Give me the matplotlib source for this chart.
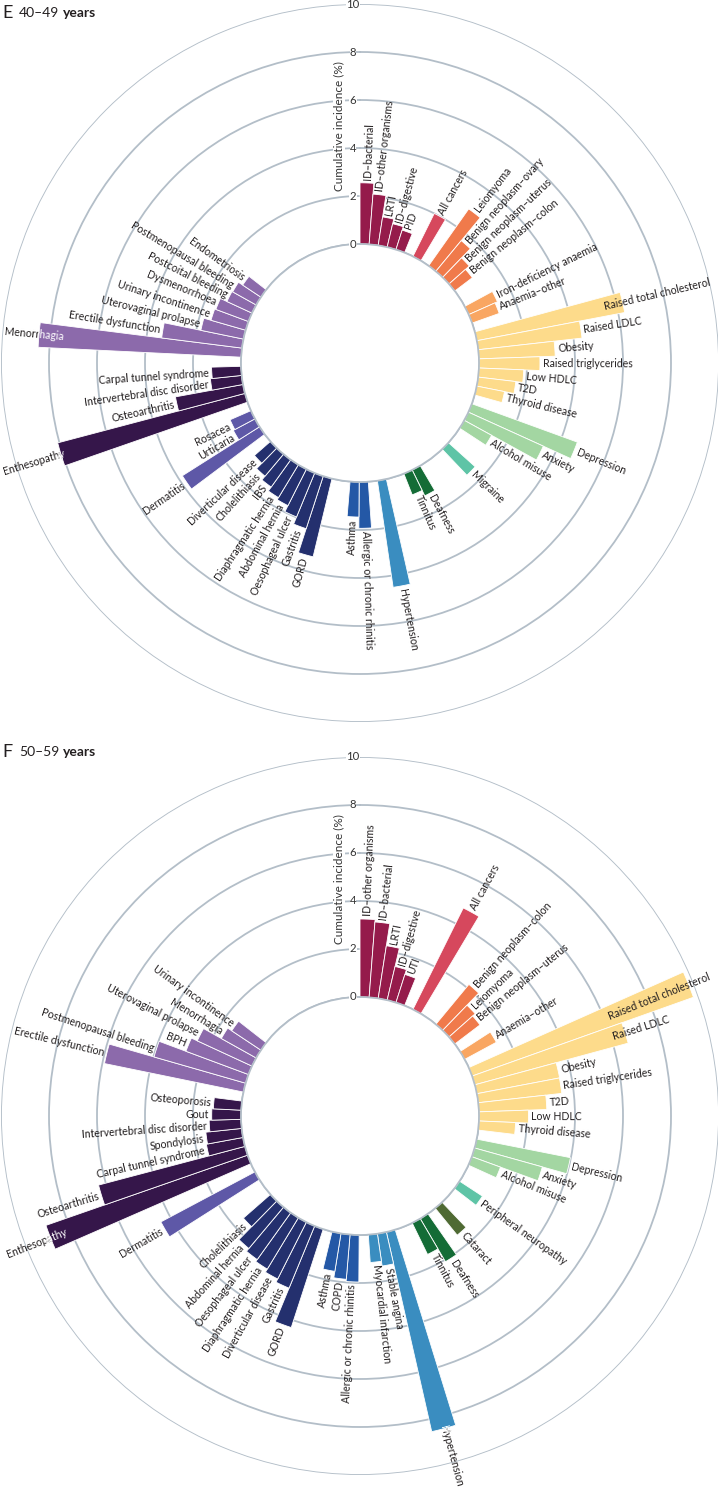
import matplotlib
matplotlib.use('Agg')
import matplotlib.pyplot as plt
import numpy as np
from matplotlib import font_manager

# ---- data: panel E, 40-49 years ----
e_labels = ['ID–bacterial', 'ID–other organisms', 'LRTI', 'ID–digestive', 'PID',
            'All cancers',
            'Leiomyoma', 'Benign neoplasm–ovary', 'Benign neoplasm–uterus', 'Benign neoplasm–colon',
            'Iron-deficiency anaemia', 'Anaemia–other',
            'Raised total cholesterol', 'Raised LDLC', 'Obesity', 'Raised triglycerides',
            'Low HDLC', 'T2D', 'Thyroid disease',
            'Depression', 'Anxiety', 'Alcohol misuse',
            'Migraine',
            'Deafness', 'Tinnitus',
            'Hypertension',
            'Allergic or chronic rhinitis', 'Asthma',
            'GORD', 'Gastritis', 'Oesophageal ulcer', 'Abdominal hernia', 'Diaphragmatic hernia',
            'IBS', 'Cholelithiasis', 'Diverticular disease',
            'Dermatitis', 'Urticaria', 'Rosacea',
            'Enthesopathy', 'Osteoarthritis', 'Intervertebral disc disorder', 'Carpal tunnel syndrome',
            'Menorrhagia', 'Erectile dysfunction', 'Uterovaginal prolapse', 'Urinary incontinence',
            'Dysmenorrhoea', 'Postcoital bleeding', 'Postmenopausal bleeding', 'Endometriosis']
e_values = [2.55, 2.1, 1.2, 1.0, 0.85,
            2.0,
            2.9, 1.66, 1.13, 0.92,
            1.31, 1.2,
            6.27, 4.35, 3.18, 2.54, 1.87, 1.58, 1.18,
            4.68, 3.43, 1.3,
            1.5,
            1.2, 0.95,
            4.49,
            1.93, 1.46,
            3.35, 2.3, 1.98, 1.7, 1.6, 1.4, 1.2, 0.89,
            3.81, 1.02, 0.95,
            8.07, 2.86, 1.31, 1.23,
            8.47, 3.37, 1.81, 1.5, 1.45, 1.15, 1.12, 0.91]
e_groups = ['inf', 'can', 'ben', 'ana', 'met', 'men', 'neu', 'ear', 'cv', 'resp', 'gi', 'skin', 'msk', 'gu']
e_sizes = [5, 1, 4, 2, 7, 3, 1, 2, 1, 2, 8, 3, 4, 8]
e_gaps = [1, 1, 2, 1, 1, 2, 3, 2, 1, 2, 1, 1, 1]

# ---- data: panel F, 50-59 years ----
f_labels = ['ID–other organisms', 'ID–bacterial', 'LRTI', 'ID–digestive', 'UTI',
            'All cancers',
            'Benign neoplasm–colon', 'Leiomyoma', 'Benign neoplasm–uterus',
            'Anaemia–other',
            'Raised total cholesterol', 'Raised LDLC', 'Obesity', 'Raised triglycerides',
            'T2D', 'Low HDLC', 'Thyroid disease',
            'Depression', 'Anxiety', 'Alcohol misuse',
            'Peripheral neuropathy',
            'Cataract',
            'Deafness', 'Tinnitus',
            'Hypertension', 'Stable angina', 'Myocardial infarction',
            'Allergic or chronic rhinitis', 'COPD', 'Asthma',
            'GORD', 'Gastritis', 'Diverticular disease', 'Diaphragmatic hernia',
            'Oesophageal ulcer', 'Abdominal hernia', 'Cholelithiasis',
            'Dermatitis',
            'Enthesopathy', 'Osteoarthritis', 'Carpal tunnel syndrome', 'Spondylosis',
            'Intervertebral disc disorder', 'Gout', 'Osteoporosis',
            'Erectile dysfunction', 'Postmenopausal bleeding', 'BPH', 'Uterovaginal prolapse',
            'Menorrhagia', 'Urinary incontinence']
f_values = [3.25, 3.15, 2.22, 1.44, 1.23,
            4.72,
            2.16, 1.46, 1.32,
            1.5,
            9.79, 6.62, 3.51, 3.5, 2.83, 2.06, 1.53,
            3.98, 2.93, 1.27,
            1.14,
            1.45,
            2.08, 1.46,
            8.53, 1.36, 1.16,
            1.96, 1.87, 1.6,
            4.31, 2.8, 2.65, 2.5, 2.4, 2.25, 1.5,
            4.44,
            8.9, 6.31, 1.55, 1.5, 1.33, 1.22, 1.16,
            5.91, 3.97, 2.78, 2.51, 1.66, 1.46]
f_groups = ['inf', 'can', 'ben', 'ana', 'met', 'men', 'neu', 'eye', 'ear', 'cv', 'resp', 'gi', 'skin', 'msk', 'gu']
f_sizes = [5, 1, 3, 1, 7, 3, 1, 1, 2, 3, 3, 7, 1, 7, 6]
f_gaps = [1, 2, 1, 1, 1, 2, 2, 1, 2, 1, 1, 2, 1, 1]

group_colours = {'inf': '#951b4b', 'can': '#d6485d', 'ben': '#f07a4b', 'ana': '#f9a662',
                 'met': '#fddb8b', 'men': '#a3d6a2', 'neu': '#5ec4a6', 'eye': '#4f6a33',
                 'ear': '#146c36', 'cv': '#3a8dc0', 'resp': '#2458a6', 'gi': '#24306e',
                 'skin': '#5e58a7', 'msk': '#35164a', 'gu': '#8c6aab'}

# labels moved by hand in the original (radius where the label is anchored)
e_moved = {'Raised total cholesterol': 5.5, 'Menorrhagia': 7.45, 'Enthesopathy': 7.9}
f_moved = {'Raised total cholesterol': 6.2, 'Raised LDLC': 6.1, 'Enthesopathy': 8.2,
           'Hypertension': 8.4}
white_over_bar = ['Menorrhagia', 'Enthesopathy', 'Hypertension']

names = {f.name for f in font_manager.fontManager.ttflist}
if 'Liberation Sans Narrow' in names:
    plt.rcParams['font.family'] = ['Liberation Sans Narrow', 'DejaVu Sans']
    fs = 8.6
else:
    plt.rcParams['font.family'] = ['Lato', 'DejaVu Sans']
    fs = 7.6

SLOT = np.radians(4.4)
INNER = 119 / 24  # hole in the middle, in % units
ring_col = '#b3bec8'
txt_col = '#231f20'


def draw_panel(ax, labels, values, groups, sizes, gaps, moved):
    slots = []
    s = 0
    cols = []
    for i, n in enumerate(sizes):
        if i > 0:
            s += gaps[i - 1]
        for k in range(n):
            slots.append(s)
            cols.append(group_colours[groups[i]])
            s += 1
    theta = (np.array(slots) + 0.5) * SLOT

    ax.set_theta_zero_location('N')
    ax.set_theta_direction(-1)
    ax.set_ylim(0, 10)
    ax.set_rorigin(-INNER)
    ax.set_facecolor('none')
    ax.set_xticks([])
    ax.set_yticks([0, 2, 4, 6, 8, 10])
    ax.set_yticklabels([])
    ax.tick_params(length=0)
    ax.set_axisbelow(True)
    ax.yaxis.grid(True, color=ring_col, lw=1.3)
    for sp in ax.spines.values():
        sp.set_visible(False)
    # the inner spine is switched back on when drawing, so give it the ring style
    ax.spines['inner'].set_color(ring_col)
    ax.spines['inner'].set_linewidth(1.3)

    bars = ax.bar(theta, values, width=SLOT, bottom=0, color=cols,
                  edgecolor='white', linewidth=0.6, zorder=2)

    for t, v, lab, b in zip(theta, values, labels, bars):
        deg = np.degrees(t)
        if deg < 180:
            rot, ha = 90 - deg, 'left'
        else:
            rot, ha = 270 - deg, 'right'
        r = moved.get(lab, v + 0.12)
        if lab in white_over_bar and lab in moved:
            ax.text(t, r, lab, rotation=rot, rotation_mode='anchor', ha=ha, va='center',
                    fontsize=fs, color=txt_col, zorder=1)
            w = ax.text(t, r, lab, rotation=rot, rotation_mode='anchor', ha=ha, va='center',
                        fontsize=fs, color='white', zorder=3)
            w.set_clip_on(True)
            w.set_clip_path(b)
        else:
            ax.text(t, r, lab, rotation=rot, rotation_mode='anchor', ha=ha, va='center',
                    fontsize=fs, color=txt_col, zorder=3)

    for r in [0, 2, 4, 6, 8, 10]:
        ax.annotate(str(r), xy=(0, r), xytext=(-7, 0), textcoords='offset pixels',
                    ha='center', va='center', fontsize=fs + 0.6, color='#333333', zorder=4,
                    bbox=dict(fc='white', ec='none', pad=0.2))
    ax.annotate('Cumulative incidence (%)', xy=(0, 4.9), xytext=(-21, 0),
                textcoords='offset pixels', rotation=90, ha='center', va='center',
                fontsize=fs + 0.9, color='#333333', zorder=4,
                bbox=dict(fc='white', ec='none', pad=0.2))


W, H = 718, 1489
fig = plt.figure(figsize=(W / 100, H / 100), dpi=100)

# panel E: centre (360, 363), outer radius 359 px
axE = fig.add_axes([1 / W, (H - 722) / H, 718 / W, 718 / H], projection='polar')
draw_panel(axE, e_labels, e_values, e_groups, e_sizes, e_gaps, e_moved)

# panel F: centre (360, 1116)
axF = fig.add_axes([1 / W, (H - 1475) / H, 718 / W, 718 / H], projection='polar')
draw_panel(axF, f_labels, f_values, f_groups, f_sizes, f_gaps, f_moved)

for letter, ages, y in [('E', '40–49', 13), ('F', '50–59', 752)]:
    fig.text(2 / W, 1 - y / H, letter, fontsize=13, color=txt_col, va='center')
    t_age = fig.text(19 / W, 1 - y / H, ages, fontsize=10, color=txt_col, va='center')
    fig.add_artist(plt.Annotation('years', xy=(1, 0.5), xycoords=t_age, xytext=(4, 0),
                                  textcoords='offset pixels', fontsize=10, fontweight='bold',
                                  color=txt_col, va='center', ha='left'))

fig.savefig('out.png', dpi=100)
